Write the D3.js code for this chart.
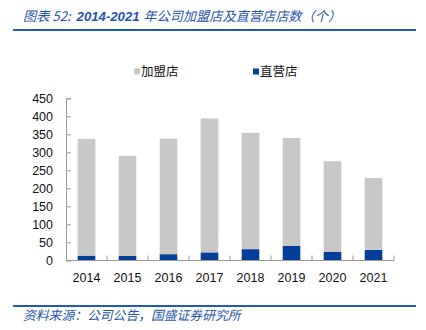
<!DOCTYPE html>
<html><head><meta charset="utf-8">
<script src="https://cdn.jsdelivr.net/npm/d3@7"></script>
<style>
body{margin:0;background:#fff;}
svg{display:block;}
</style></head>
<body>
<svg id="c" width="426" height="330"></svg>
<script>
const years = ["2014","2015","2016","2017","2018","2019","2020","2021"];
const franchise = [324, 278, 321, 372, 323, 300, 251, 200];
const direct = [13, 12, 17, 22, 31, 40, 24, 29];
const yTicks = [0,50,100,150,200,250,300,350,400,450];
const seriesNames = ["加盟店","直营店"];
const colors = ["#c8c8c8","#033f98"];

const svg = d3.select("#c");
const blue = "#1f56a8";
const cjk = "'Noto Sans CJK SC','Noto Sans',sans-serif";

// Title
const t = svg.append("text").attr("x",23).attr("y",21).attr("fill",blue).attr("font-style","italic")
  .attr("font-family",cjk).attr("font-size",13.2);
t.append("tspan").text("图表 52:\u00a0\u00a0");
t.append("tspan").attr("font-weight","bold").attr("font-family","'Liberation Sans',Arial,sans-serif").text("2014-2021\u00a0");
t.append("tspan").text("年公司加盟店及直营店店数（个）");
svg.append("line").attr("x1",13).attr("x2",416).attr("y1",30).attr("y2",30)
  .attr("stroke","#1a5cb8").attr("stroke-width",2);

// Scales
const x = d3.scaleBand().domain(years).range([66,394]).paddingInner(0.57).paddingOuter(0.285);
const y = d3.scaleLinear().domain([0,450]).range([260.3,98.3]);

const stacked = years.map((yr,i)=>({yr, d:direct[i], f:franchise[i]}));

// Bars: direct bottom, franchise on top
const g = svg.append("g");
g.selectAll("rect.d").data(stacked).join("rect")
  .attr("x",d=>x(d.yr)).attr("width",x.bandwidth())
  .attr("y",d=>y(d.d)).attr("height",d=>y(0)-y(d.d))
  .attr("fill",colors[1]);
g.selectAll("rect.f").data(stacked).join("rect")
  .attr("x",d=>x(d.yr)).attr("width",x.bandwidth())
  .attr("y",d=>y(d.d+d.f)).attr("height",d=>y(d.d)-y(d.d+d.f))
  .attr("fill",colors[0]);

// Y axis
const yAxis = d3.axisLeft(y).tickValues(yTicks).tickSize(-5).tickPadding(13);
const ya = svg.append("g").attr("transform","translate(66,0)").call(yAxis);
ya.select(".domain").attr("stroke","#999");
ya.selectAll(".tick line").attr("stroke","#999");
ya.selectAll("text").attr("font-family","'Liberation Sans',Arial,sans-serif").attr("font-size",12.5).attr("fill","#111");

// X axis line & ticks at category boundaries
svg.append("line").attr("x1",66).attr("x2",394).attr("y1",260.5).attr("y2",260.5).attr("stroke","#999");
const bounds = d3.range(1, years.length+1).map(i=>66 + i*x.step());
svg.selectAll("line.xt").data(bounds).join("line")
  .attr("x1",d=>d).attr("x2",d=>d).attr("y1",255.5).attr("y2",260.5).attr("stroke","#999");
svg.selectAll("text.xl").data(years).join("text")
  .attr("x",d=>x(d)+x.bandwidth()/2).attr("y",282)
  .attr("text-anchor","middle").attr("font-family","'Liberation Sans',Arial,sans-serif")
  .attr("font-size",12.5).attr("fill","#111").text(d=>d);

// Legend
const legX = [134, 253];
seriesNames.forEach((n,i)=>{
  svg.append("rect").attr("x",legX[i]).attr("y",68.5).attr("width",6).attr("height",6).attr("fill",colors[i]);
  svg.append("text").attr("x",legX[i]+7).attr("y",76).attr("font-family",cjk)
    .attr("font-size",12.5).attr("fill","#111").text(n);
});

// Footer
svg.append("line").attr("x1",13).attr("x2",416).attr("y1",306).attr("y2",306)
  .attr("stroke","#1a5cb8").attr("stroke-width",2);
svg.append("text").attr("x",23).attr("y",320).attr("fill",blue).attr("font-family",cjk)
  .attr("font-size",12.8).attr("font-style","italic").text("资料来源：公司公告，国盛证券研究所");
</script>
</body></html>
